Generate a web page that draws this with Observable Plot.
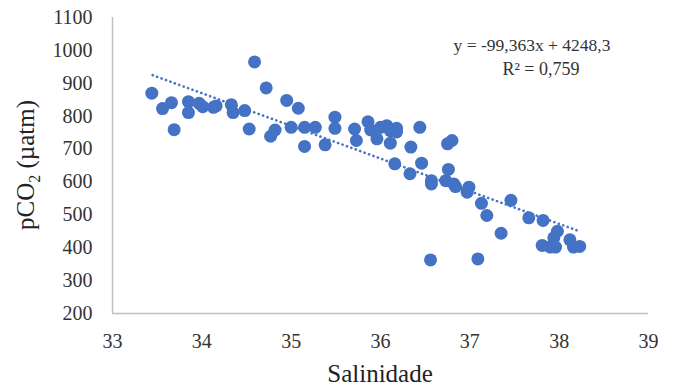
<!DOCTYPE html>
<html>
<head>
<meta charset="utf-8">
<script src="https://cdn.jsdelivr.net/npm/d3@7"></script>
<script src="https://cdn.jsdelivr.net/npm/@observablehq/plot@0.6"></script>
<style>
  html, body { margin: 0; padding: 0; background: #fff; }
  #chart svg { display: block; }
</style>
</head>
<body>
<div id="chart"></div>
<script>
const salinidade = [33.44, 33.56, 33.66, 33.69, 33.85, 33.85, 33.97, 34.01, 34.13, 34.16,
  34.33, 34.35, 34.48, 34.53, 34.59, 34.72, 34.77, 34.82, 34.95, 35.00,
  35.08, 35.15, 35.15, 35.27, 35.38, 35.49, 35.49, 35.71, 35.73, 35.86,
  35.89, 35.96, 36.00, 36.07, 36.11, 36.18, 36.18, 36.11, 36.44, 36.34,
  36.16, 36.33, 36.46, 36.57, 36.57, 36.75, 36.80, 36.76, 36.73, 36.82,
  36.84, 36.99, 36.97, 37.13, 37.19, 37.46, 37.35, 36.56, 37.09, 37.66,
  37.82, 37.98, 37.94, 37.81, 37.90, 37.96, 38.12, 38.16, 38.23];
const pco2 = [870, 823, 841, 759, 844, 811, 839, 829, 827, 831,
  835, 811, 817, 761, 965, 886, 739, 758, 848, 766,
  824, 766, 708, 766, 713, 797, 763, 761, 726, 783,
  758, 731, 766, 771, 756, 763, 752, 718, 766, 706,
  655, 625, 657, 604, 594, 716, 726, 638, 604, 594,
  586, 584, 569, 535, 498, 544, 444, 363, 366, 491,
  483, 450, 430, 407, 402, 402, 424, 402, 404];
const trendX = [33.45, 38.2];
const trendY = [924.6, 452.7];
const xTicks = [33, 34, 35, 36, 37, 38, 39];
const yTicks = [200, 300, 400, 500, 600, 700, 800, 900, 1000, 1100];
const equation = "y = -99,363x + 4248,3";
const r2Label = "R² = 0,759";

const points = salinidade.map((s, i) => ({s, p: pco2[i]}));
const trend = trendX.map((s, i) => ({s, p: trendY[i]}));

const chart = Plot.plot({
  width: 675,
  height: 388,
  marginLeft: 112,
  marginRight: 27,
  marginTop: 17,
  marginBottom: 75,
  style: {fontFamily: "'Liberation Serif', 'Times New Roman', serif", fontSize: "20px", color: "#333", background: "#fff"},
  x: {domain: [33, 39]},
  y: {domain: [200, 1100]},
  marks: [
    Plot.axisX({ticks: xTicks, tickFormat: d3.format("d"), tickSize: 0, tickPadding: 20, label: null, fontSize: 20}),
    Plot.axisY({ticks: yTicks, tickFormat: d3.format("d"), tickSize: 0, tickPadding: 20, label: null, fontSize: 20}),
    Plot.ruleX([33], {y1: 200, y2: 1100, stroke: "#bfbfbf", strokeWidth: 1.5}),
    Plot.ruleY([200], {x1: 33, x2: 39, stroke: "#bfbfbf", strokeWidth: 1.5}),
    Plot.line(trend, {x: "s", y: "p", stroke: "#4472C4", strokeWidth: 2.6, strokeDasharray: "0.1,4.6", strokeLinecap: "round"}),
    Plot.dot(points, {x: "s", y: "p", r: 6.5, fill: "#4472C4", stroke: "none"})
  ]
});
document.getElementById("chart").appendChild(chart);

const svg = d3.select(chart);
const font = "'Liberation Serif', 'Times New Roman', serif";
// y axis title with subscript
const yt = svg.append("text")
  .attr("transform", "translate(34,165) rotate(-90)")
  .attr("text-anchor", "middle")
  .attr("font-family", font)
  .attr("font-size", 25)
  .attr("fill", "#222");
yt.append("tspan").text("pCO");
yt.append("tspan").attr("font-size", 16).attr("dy", 6).text("2");
yt.append("tspan").attr("dy", -6).text(" (µatm)");
// x axis title
svg.append("text")
  .attr("x", 380).attr("y", 382)
  .attr("text-anchor", "middle")
  .attr("font-family", font)
  .attr("font-size", 25)
  .attr("fill", "#222")
  .text("Salinidade");
// equation
svg.append("text")
  .attr("x", 532).attr("y", 51)
  .attr("text-anchor", "middle")
  .attr("font-family", font)
  .attr("font-size", 17.5)
  .attr("fill", "#333")
  .text(equation);
svg.append("text")
  .attr("x", 541).attr("y", 75)
  .attr("text-anchor", "middle")
  .attr("font-family", font)
  .attr("font-size", 18)
  .attr("fill", "#333")
  .text(r2Label);
</script>
</body>
</html>
